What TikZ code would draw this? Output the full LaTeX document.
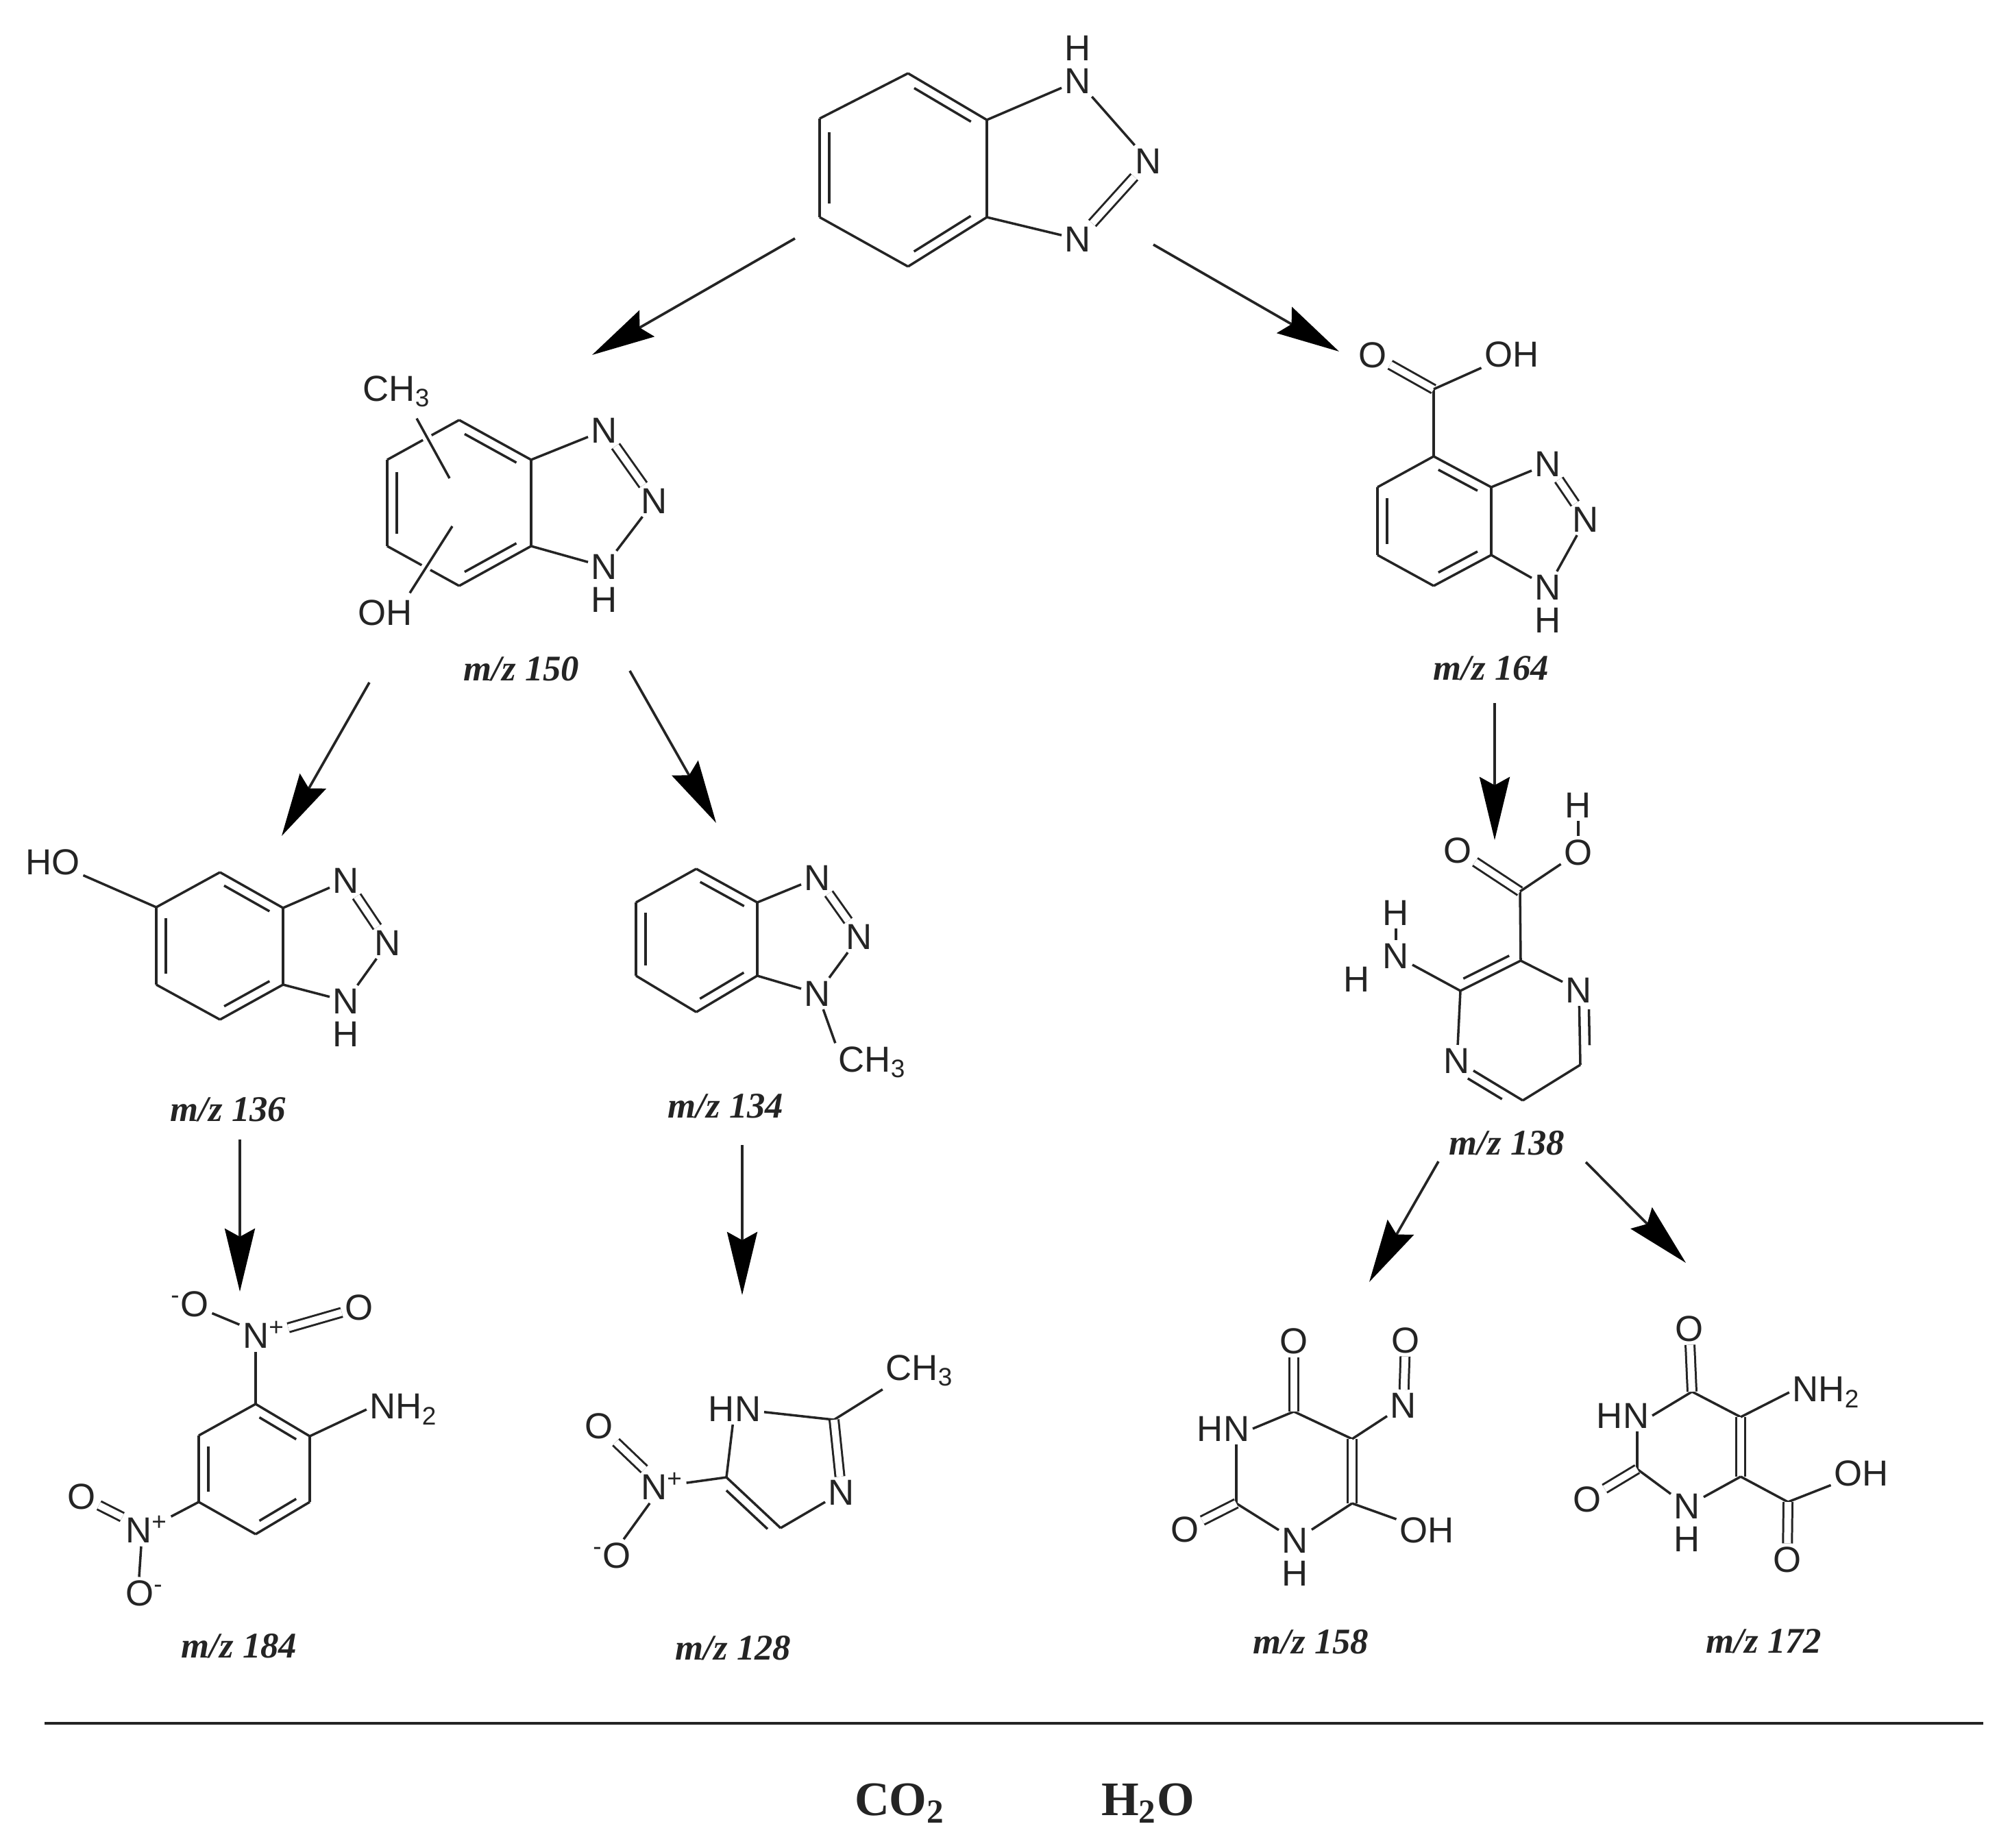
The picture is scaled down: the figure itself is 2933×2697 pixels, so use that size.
\documentclass[tikz,border=0pt]{standalone}
\usepackage{fontspec}
\usetikzlibrary{arrows.meta}
\usetikzlibrary{calc}
\newfontfamily\atomfont{Liberation Sans}
\newfontfamily\labelfont{Liberation Serif}
\definecolor{ink}{gray}{0.14}
\tikzset{
  atom/.style={inner sep=1.2pt,text=ink,font=\atomfont\fontsize{15}{17}\selectfont},
  bond/.style={draw=ink,line width=1pt},
  dbond/.style={draw=ink,line width=0.85pt,double,double distance=0.1cm},
  halo/.style={bond,preaction={draw=white,line width=4pt}},
  rxn/.style={draw=ink,line width=1.05pt,-{Stealth[length=0.92cm,width=0.44cm,inset=0.12cm,color=black]}},
  mz/.style={inner sep=0pt,text=ink,font=\labelfont\bfseries\itshape\fontsize{15}{17}\selectfont},
  small/.style={inner sep=0pt,text=ink,font=\labelfont\bfseries\fontsize{20}{22}\selectfont}
}
% ring double bond: inner line lies left of the travel direction
\newcommand{\dbl}[3][.14]{
  \draw[bond] (#2) -- (#3);
  \draw[bond] ($(#2)!#1!(#3)!0.14cm!90:(#3)$) -- ($(#3)!#1!(#2)!0.14cm!-90:(#2)$);
}

\begin{document}
\begin{tikzpicture}[x=0.01cm,y=-0.01cm]
\useasboundingbox (0,0) rectangle (2933,2697);

% parent
\coordinate (a1) at (1325,107);
\coordinate (a2) at (1196,173);
\coordinate (a3) at (1196,317);
\coordinate (a4) at (1325,389);
\coordinate (a5) at (1440,317);
\coordinate (a6) at (1440,175);
\node[atom] (an1) at (1573,118) {N};
\node[atom] (ah1) at (1573,70) {H};
\node[atom] (an2) at (1676,235) {N};
\node[atom] (an3) at (1573,349) {N};
\draw[bond] (a1) -- (a2);
\dbl{a2}{a3}
\draw[bond] (a3) -- (a4);
\dbl{a4}{a5}
\draw[bond] (a5) -- (a6);
\dbl{a6}{a1}
\draw[bond] (a6) -- (an1);
\draw[bond] (a5) -- (an3);
\draw[bond] (an1) -- (an2);
\draw[dbond] (an2) -- (an3);

% m/z 150
\coordinate (b1) at (670,613);
\coordinate (b2) at (565,671);
\coordinate (b3) at (565,797);
\coordinate (b4) at (670,855);
\coordinate (b5) at (775,797);
\coordinate (b6) at (775,671);
\node[atom] (bn1) at (882,628) {N};
\node[atom] (bn2) at (955,731) {N};
\node[atom] (bn3) at (882,827) {N};
\node[atom] (bh3) at (882,875) {H};
\node[atom] (bme) at (579,571) {CH\textsubscript{3}};
\node[atom] (boh) at (562,894) {OH};
\coordinate (bm) at (656,698);
\coordinate (bo) at (660,768);
\draw[bond] (b1) -- (b2);
\dbl{b2}{b3}
\draw[bond] (b3) -- (b4);
\dbl{b4}{b5}
\draw[bond] (b5) -- (b6);
\dbl{b6}{b1}
\draw[bond] (b6) -- (bn1);
\draw[bond] (b5) -- (bn3);
\draw[dbond] (bn1) -- (bn2);
\draw[bond] (bn2) -- (bn3);
\draw[halo] ([xshift=0.29cm,yshift=-0.12cm]bme.south) -- (bm);
\draw[halo] ([xshift=0.36cm,yshift=0.05cm]boh.north) -- (bo);
\node[mz] (bmz) at (761,976) {m/z 150};

% m/z 164
\coordinate (c1) at (2092,666);
\coordinate (c2) at (2010,711);
\coordinate (c3) at (2010,810);
\coordinate (c4) at (2092,855);
\coordinate (c5) at (2176,810);
\coordinate (c6) at (2176,711);
\coordinate (cc) at (2092,568);
\node[atom] (co1) at (2003,518) {O};
\node[atom] (coh) at (2206,517) {OH};
\node[atom] (cn1) at (2259,677) {N};
\node[atom] (cn2) at (2314,758) {N};
\node[atom] (cn3) at (2259,857) {N};
\node[atom] (ch3) at (2259,905) {H};
\draw[bond] (c1) -- (c2);
\dbl[.16]{c2}{c3}
\draw[bond] (c3) -- (c4);
\dbl[.16]{c4}{c5}
\draw[bond] (c5) -- (c6);
\dbl[.16]{c6}{c1}
\draw[bond] (c1) -- (cc);
\draw[dbond] (cc) -- (co1);
\draw[bond] (cc) -- (coh);
\draw[bond] (c6) -- (cn1);
\draw[bond] (c5) -- (cn3);
\draw[dbond] (cn1) -- (cn2);
\draw[bond] (cn2) -- (cn3);
\node[mz] (cmz) at (2176,975) {m/z 164};

% m/z 136
\coordinate (d1) at (321,1273);
\coordinate (d2) at (228,1324);
\coordinate (d3) at (228,1437);
\coordinate (d4) at (321,1488);
\coordinate (d5) at (413,1437);
\coordinate (d6) at (413,1325);
\node[atom] (dho) at (77,1258) {HO};
\node[atom] (dn1) at (505,1285) {N};
\node[atom] (dn2) at (566,1376) {N};
\node[atom] (dn3) at (505,1461) {N};
\node[atom] (dh3) at (505,1509) {H};
\draw[bond] (d1) -- (d2);
\dbl{d2}{d3}
\draw[bond] (d3) -- (d4);
\dbl{d4}{d5}
\draw[bond] (d5) -- (d6);
\dbl{d6}{d1}
\draw[bond] (d2) -- (dho);
\draw[bond] (d6) -- (dn1);
\draw[bond] (d5) -- (dn3);
\draw[dbond] (dn1) -- (dn2);
\draw[bond] (dn2) -- (dn3);
\node[mz] (dmz) at (333,1619) {m/z 136};

% m/z 134
\coordinate (e1) at (1016,1268);
\coordinate (e2) at (928,1317);
\coordinate (e3) at (928,1424);
\coordinate (e4) at (1016,1477);
\coordinate (e5) at (1105,1424);
\coordinate (e6) at (1105,1317);
\node[atom] (en1) at (1193,1281) {N};
\node[atom] (en2) at (1254,1367) {N};
\node[atom] (en3) at (1193,1450) {N};
\node[atom] (eme) at (1273,1550) {CH\textsubscript{3}};
\draw[bond] (e1) -- (e2);
\dbl{e2}{e3}
\draw[bond] (e3) -- (e4);
\dbl{e4}{e5}
\draw[bond] (e5) -- (e6);
\dbl{e6}{e1}
\draw[bond] (e6) -- (en1);
\draw[bond] (e5) -- (en3);
\draw[dbond] (en1) -- (en2);
\draw[bond] (en2) -- (en3);
\draw[bond] (en3) -- (eme.north west);
\node[mz] (emz) at (1059,1614) {m/z 134};

% m/z 138
\coordinate (fc) at (2218,1301);
\node[atom] (fo1) at (2127,1241) {O};
\node[atom] (fo2) at (2303,1244) {O};
\node[atom] (fh2) at (2303,1175) {H};
\coordinate (f1) at (2219,1402);
\node[atom] (fn1) at (2304,1445) {N};
\coordinate (f2) at (2306,1554);
\coordinate (f3) at (2222,1606);
\node[atom] (fn2) at (2126,1548) {N};
\coordinate (f4) at (2131,1446);
\node[atom] (fnh) at (2037,1395) {N};
\node[atom] (fh3) at (2037,1332) {H};
\node[atom] (fh4) at (1980,1429) {H};
\draw[bond] (f1) -- (fn1);
\dbl[.26]{fn1}{f2}
\draw[bond] (f2) -- (f3);
\dbl[.24]{f3}{fn2}
\draw[bond] (fn2) -- (f4);
\dbl[.12]{f4}{f1}
\draw[bond] (f1) -- (fc);
\draw[dbond] (fc) -- (fo1);
\draw[bond] (fc) -- (fo2);
\draw[bond] (fo2) -- (fh2);
\draw[bond] (f4) -- (fnh);
\draw[bond] (fnh) -- (fh3);
\node[mz] (fmz) at (2199,1668) {m/z 138};

% m/z 184
\node[atom] (gn1) at (385,1948) {N\textsuperscript{+}};
\node[atom] (go1) at (277,1903) {\textsuperscript{-}O};
\node[atom] (go2) at (524,1908) {O};
\coordinate (g1) at (373,2049);
\coordinate (g2) at (290,2095);
\coordinate (g3) at (290,2192);
\coordinate (g4) at (373,2239);
\coordinate (g5) at (452,2192);
\coordinate (g6) at (452,2096);
\node[atom] (gnh) at (589,2057) {NH\textsubscript{2}};
\node[atom] (gn2) at (214,2232) {N\textsuperscript{+}};
\node[atom] (go3) at (119,2184) {O};
\node[atom] (go4) at (211,2325) {O\textsuperscript{-}};
\draw[bond] (g1) -- (g2);
\dbl[.16]{g2}{g3}
\draw[bond] (g3) -- (g4);
\dbl[.16]{g4}{g5}
\draw[bond] (g5) -- (g6);
\dbl[.16]{g6}{g1}
\draw[bond] (g1) -- (g1 |- gn1.south);
\draw[bond] (gn1) -- (go1);
\draw[dbond] (gn1) -- (go2);
\draw[bond] (g6) -- (gnh.west);
\draw[bond] (g3) -- (gn2);
\draw[dbond] (gn2) -- (go3);
\draw[bond] ([xshift=-0.08cm]gn2.south) -- ([xshift=-0.08cm]go4.north);
\node[mz] (gmz) at (349,2402) {m/z 184};

% m/z 128
\node[atom] (hnh) at (1072,2056) {HN};
\coordinate (h1) at (1217,2072);
\node[atom] (hme) at (1342,2000) {CH\textsubscript{3}};
\node[atom] (hn1) at (1228,2178) {N};
\coordinate (h2) at (1139,2230);
\coordinate (h3) at (1060,2156);
\node[atom] (hn2) at (966,2169) {N\textsuperscript{+}};
\node[atom] (ho1) at (874,2081) {O};
\node[atom] (ho2) at (893,2270) {\textsuperscript{-}O};
\draw[bond] (hnh) -- (h1);
\draw[bond] (h1) -- (hme.south west);
\draw[dbond] (h1) -- (hn1);
\draw[bond] (hn1) -- (h2);
\dbl[.12]{h2}{h3}
\draw[bond] (h3) -- (hnh);
\draw[bond] (h3) -- (hn2);
\draw[dbond] (hn2) -- (ho1);
\draw[bond] (hn2) -- (ho2);
\node[mz] (hmz) at (1070,2405) {m/z 128};

% m/z 158
\coordinate (i1) at (1888,2060);
\coordinate (i2) at (1973,2100);
\coordinate (i3) at (1973,2194);
\node[atom] (inh) at (1890,2248) {N};
\node[atom] (ih1) at (1890,2296) {H};
\coordinate (i4) at (1804,2194);
\node[atom] (ihn) at (1785,2085) {HN};
\node[atom] (io1) at (1888,1957) {O};
\node[atom] (in1) at (2048,2051) {N};
\node[atom] (io2) at (2051,1956) {O};
\node[atom] (ioh) at (2082,2233) {OH};
\node[atom] (io3) at (1729,2232) {O};
\draw[bond] (i1) -- (i2);
\draw[dbond] (i2) -- (i3);
\draw[bond] (i3) -- (inh);
\draw[bond] (inh) -- (i4);
\draw[bond] (i4) -- (i4 |- ihn.south);
\draw[bond] (ihn.east) -- (i1);
\draw[dbond] (i1) -- (io1);
\draw[bond] (i2) -- (in1);
\draw[dbond] (in1) -- (io2);
\draw[bond] (i3) -- (ioh);
\draw[dbond] (i4) -- (io3);
\node[mz] (imz) at (1913,2396) {m/z 158};

% m/z 172
\coordinate (j1) at (2469,2031);
\coordinate (j2) at (2540,2068);
\coordinate (j3) at (2540,2155);
\node[atom] (jnh) at (2462,2198) {N};
\node[atom] (jh1) at (2462,2246) {H};
\coordinate (j4) at (2389,2144);
\node[atom] (jhn) at (2368,2066) {HN};
\node[atom] (jo1) at (2465,1939) {O};
\node[atom] (jn2) at (2665,2032) {NH\textsubscript{2}};
\coordinate (jc) at (2609,2192);
\node[atom] (joh) at (2716,2150) {OH};
\node[atom] (jo2) at (2608,2276) {O};
\node[atom] (jo3) at (2316,2188) {O};
\draw[bond] (j1) -- (j2);
\draw[dbond] (j2) -- (j3);
\draw[bond] (j3) -- (jnh);
\draw[bond] (jnh) -- (j4);
\draw[bond] (j4) -- (j4 |- jhn.south);
\draw[bond] (jhn.east) -- (j1);
\draw[dbond] (j1) -- (jo1);
\draw[bond] (j2) -- (jn2.west);
\draw[bond] (j3) -- (jc);
\draw[bond] (jc) -- (joh);
\draw[dbond] (jc) -- (jo2);
\draw[dbond] (j4) -- (jo3);
\node[mz] (jmz) at (2574,2395) {m/z 172};

% arrows
\coordinate (r1s) at (1160,348);
\coordinate (r1e) at (864,518);
\coordinate (r2s) at (1683,357);
\coordinate (r2e) at (1954,513);
\coordinate (r3s) at (539,996);
\coordinate (r3e) at (411,1220);
\coordinate (r4s) at (919,979);
\coordinate (r4e) at (1045,1201);
\coordinate (r5s) at (2181,1026);
\coordinate (r5e) at (2181,1226);
\coordinate (r6s) at (350,1663);
\coordinate (r6e) at (350,1885);
\coordinate (r7s) at (1083,1671);
\coordinate (r7e) at (1083,1890);
\coordinate (r8s) at (2099,1695);
\coordinate (r8e) at (1998,1871);
\coordinate (r9s) at (2314,1696);
\coordinate (r9e) at (2460,1843);
\foreach \n in {1,...,9}
  \draw[rxn] (r\n s) -- (r\n e);

% end products
\coordinate (ruleL) at (65,2515);
\coordinate (ruleR) at (2894,2515);
\draw[draw=ink,line width=1.2pt] (ruleL) -- (ruleR);
\node[small] (co2) at (1313,2632) {CO\textsubscript{2}};
\node[small] (h2o) at (1675,2632) {H\textsubscript{2}O};

\end{tikzpicture}
\end{document}
